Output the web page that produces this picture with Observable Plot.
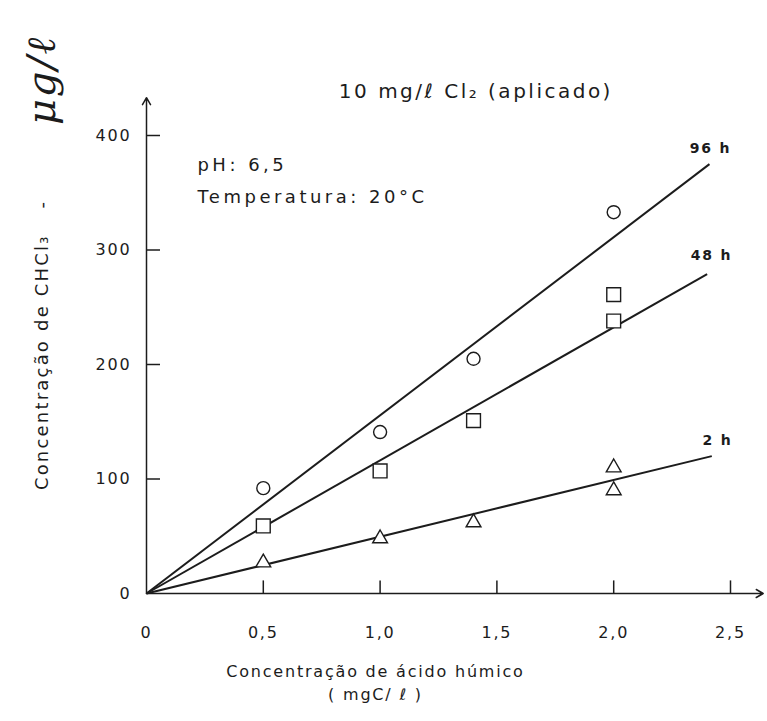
<!DOCTYPE html>
<html><head><meta charset="utf-8">
<script src="https://cdn.jsdelivr.net/npm/d3@7"></script>
<script src="https://cdn.jsdelivr.net/npm/@observablehq/plot@0.6"></script>
<style>body{margin:0;background:#fff}</style>
</head><body><div id="chart"></div>
<script>
// ---- data ----
const xTicks = [0, 0.5, 1.0, 1.5, 2.0, 2.5];
const yTicks = [0, 100, 200, 300, 400];
const x96 = [0.5, 1.0, 1.4, 2.0];
const y96 = [92, 141, 205, 333];
const x48 = [0.5, 1.0, 1.4, 2.0, 2.0];
const y48 = [59, 107, 151, 261, 238];
const x2h = [0.5, 1.0, 1.4, 2.0, 2.0];
const y2h = [27, 48, 62, 110, 90];
const lineNames = ["96 h", "48 h", "2 h"];
const lineEndX = [2.41, 2.40, 2.42];
const lineEndY = [375, 279, 120];
const labelX = [2.414, 2.419, 2.444];
const labelY = [389, 295, 134];
const axisEnd = {x: 2.64, y: 433};
const titleText = "10 mg/ℓ Cl₂ (aplicado)";
const notes = ["pH: 6,5", "Temperatura: 20°C"];
const noteY = [369, 341];
const xTitle = ["Concentração de ácido húmico", "( mgC/ ℓ )"];
const xTitleY = [-73, -93];
const yTitleParts = ["Concentração de CHCl₃", "-", "μg/ℓ"];
const yTitleY = [202, 340, 448];

const ink = "#1c1c1c";
const pts = (xs, ys) => xs.map((x, i) => ({x, y: ys[i]}));
const lines = lineNames.map((name, i) => ({name, x2: lineEndX[i], y2: lineEndY[i], lx: labelX[i], ly: labelY[i]}));
const fmt = d => d === 0 ? "0" : d.toFixed(1).replace(".", ",");

const chart = Plot.plot({
  width: 767, height: 721,
  marginLeft: 146, marginRight: 37, marginTop: 135, marginBottom: 128,
  x: {domain: [0, 2.5]},
  y: {domain: [0, 400]},
  style: {fontFamily: "DejaVu Sans", color: ink, background: "#fff"},
  marks: [
    Plot.axisX({ticks: xTicks, tickSize: 0, tickPadding: 33, tickFormat: fmt, label: null, fontSize: 16}),
    Plot.axisY({ticks: yTicks, tickSize: 0, tickPadding: 15, tickFormat: d => String(d), label: null, fontSize: 16}),
    Plot.arrow([{x1: 0, y1: 0, x2: axisEnd.x, y2: 0}], {x1: "x1", y1: "y1", x2: "x2", y2: "y2", stroke: ink, strokeWidth: 1.5, headLength: 8, insetStart: 0, insetEnd: 0}),
    Plot.arrow([{x1: 0, y1: 0, x2: 0, y2: axisEnd.y}], {x1: "x1", y1: "y1", x2: "x2", y2: "y2", stroke: ink, strokeWidth: 1.5, headLength: 8, insetStart: 0, insetEnd: 0}),
    Plot.ruleX(xTicks.filter(d => d > 0), {y1: 0, y2: 11, stroke: ink, strokeWidth: 1.5}),
    Plot.ruleY(yTicks.filter(d => d > 0), {x1: 0, x2: 0.06, stroke: ink, strokeWidth: 1.5}),
    Plot.link(lines, {x1: () => 0, y1: () => 0, x2: "x2", y2: "y2", stroke: ink, strokeWidth: 2}),
    Plot.text(lines, {x: "lx", y: "ly", text: "name", fontSize: 14, fontWeight: "bold", fill: ink}),
    Plot.dot(pts(x96, y96), {x: "x", y: "y", symbol: "circle", r: 6.5, stroke: ink, fill: "white", strokeWidth: 1.4}),
    Plot.dot(pts(x48, y48), {x: "x", y: "y", symbol: "square", r: 7.8, stroke: ink, fill: "white", strokeWidth: 1.4}),
    Plot.dot(pts(x2h, y2h), {x: "x", y: "y", symbol: "triangle", r: 5.5, stroke: ink, fill: "white", strokeWidth: 1.4}),
    Plot.text([titleText], {x: 1.41, y: 433, text: d => d, fontSize: 20, lineAnchor: "bottom", fill: ink, textAnchor: "middle", className: "wide"}),
    Plot.text(notes, {x: 0.218, y: (d, i) => noteY[i], text: d => d, fontSize: 18, lineAnchor: "bottom", textAnchor: "start", fill: ink, className: "wider"}),
    Plot.text(xTitle, {x: 0.98, y: (d, i) => xTitleY[i], text: d => d, fontSize: 16, lineAnchor: "bottom", textAnchor: "middle", fill: ink}),
    Plot.text(yTitleParts.slice(0, 2), {x: -0.445, y: (d, i) => yTitleY[i], text: d => d, rotate: -90, fontSize: 18, lineAnchor: "middle", textAnchor: "middle", fill: ink, className: "ylab"}),
    Plot.text(yTitleParts.slice(2), {x: -0.445, y: yTitleY[2], text: d => d, rotate: -90, fontSize: 40, fontStyle: "italic", fontFamily: "DejaVu Serif", lineAnchor: "middle", textAnchor: "middle", fill: ink})
  ]
});
document.getElementById("chart").append(chart);
// letter spacing to mimic stencil lettering
chart.querySelectorAll("text").forEach(t => t.setAttribute("letter-spacing", "1.8"));
chart.querySelectorAll(".wide text").forEach(t => t.setAttribute("letter-spacing", "2.5"));
chart.querySelectorAll(".wider text").forEach(t => t.setAttribute("letter-spacing", "3.5"));
chart.querySelectorAll(".ylab text").forEach(t => t.setAttribute("letter-spacing", "2.2"));
</script>
</body></html>
